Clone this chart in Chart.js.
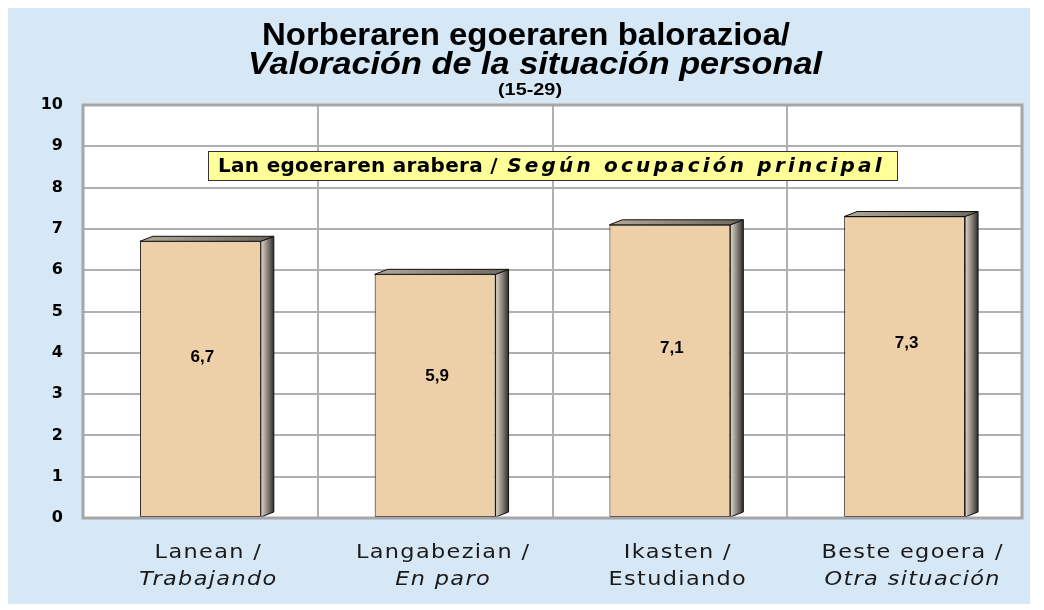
<!DOCTYPE html>
<html>
<head>
<meta charset="utf-8">
<script src="https://cdn.jsdelivr.net/npm/chart.js@4/dist/chart.umd.min.js"></script>
<style>
  html, body { margin: 0; padding: 0; background: #fff; }
  #wrap { width: 1044px; height: 610px; }
</style>
</head>
<body>
<div id="wrap"><canvas id="chart" width="1044" height="610"></canvas></div>
<script>
// data
const catEu = ['Lanean /', 'Langabezian /', 'Ikasten /', 'Beste egoera /'];
const catEs = ['Trabajando', 'En paro', 'Estudiando', 'Otra situación'];
const catEsItalic = [true, true, false, true];
const values = [6.7, 5.9, 7.1, 7.3];
const yMin = 0, yMax = 10, yStep = 1;

const titleLine1 = 'Norberaren egoeraren balorazioa/';
const titleLine2 = 'Valoración de la situación personal';
const subtitle = '(15-29)';
const boxEu = 'Lan egoeraren arabera / ';
const boxEs = 'Según ocupación principal';

const BLUE = '#d6e7f5';
const BAR = '#edd0a7';
const GRID = '#b0b0b0';
const ARIAL = '"Liberation Sans", Arial, sans-serif';
const LABEL_FONT = '"DejaVu Sans", Verdana, sans-serif';

const fmt = v => v.toFixed(1).replace('.', ',');

// draws centred text stretched horizontally to a given width
function fitText(ctx, text, cx, cy, font, width) {
  ctx.font = font;
  const w = ctx.measureText(text).width;
  ctx.save();
  ctx.translate(cx, cy);
  ctx.scale(width / w, 1);
  ctx.textAlign = 'center';
  ctx.fillText(text, 0, 0);
  ctx.restore();
}

// centred text with a fixed horizontal stretch
function wideText(ctx, text, cx, cy, sx) {
  ctx.save();
  ctx.translate(cx, cy);
  ctx.scale(sx, 1);
  ctx.textAlign = 'center';
  ctx.fillText(text, 0, 0);
  ctx.restore();
}

// background, plot frame and all decorative text
const decor = {
  id: 'decor',
  beforeDraw(chart) {
    const { ctx, chartArea: a } = chart;
    ctx.save();
    ctx.fillStyle = '#fff';
    ctx.fillRect(0, 0, chart.width, chart.height);
    ctx.fillStyle = BLUE;
    ctx.fillRect(8, 8, 1022, 596);
    ctx.fillStyle = '#fff';
    ctx.fillRect(a.left, a.top, a.right - a.left, a.bottom - a.top);
    ctx.restore();
  },
  afterDraw(chart) {
    const { ctx, chartArea: a } = chart;
    const xs = chart.scales.x;
    ctx.save();
    ctx.strokeStyle = '#a6a6a6';
    ctx.lineWidth = 3;
    ctx.strokeRect(a.left, a.top, a.right - a.left, a.bottom - a.top);

    // titles
    ctx.fillStyle = '#000';
    ctx.textBaseline = 'middle';
    fitText(ctx, titleLine1, 526, 36, 'bold 31px ' + ARIAL, 528);
    fitText(ctx, titleLine2, 535, 65, 'italic bold 31px ' + ARIAL, 574);
    fitText(ctx, subtitle, 530, 90, 'bold 17px ' + ARIAL, 64);

    // yellow label box
    const bx = 208, by = 151, bw = 689, bh = 29;
    ctx.fillStyle = '#ffff99';
    ctx.fillRect(bx, by, bw, bh);
    ctx.strokeStyle = '#333';
    ctx.lineWidth = 1;
    ctx.strokeRect(bx + 0.5, by + 0.5, bw, bh);
    ctx.fillStyle = '#000';
    ctx.textAlign = 'left';
    ctx.font = 'bold 20px ' + LABEL_FONT;
    ctx.letterSpacing = '0.3px';
    const w1 = ctx.measureText(boxEu).width;
    ctx.fillText(boxEu, 218, by + bh / 2 + 1);
    ctx.font = 'italic bold 20px ' + LABEL_FONT;
    ctx.letterSpacing = '3.2px';
    ctx.fillText(boxEs, 218 + w1 + 2, by + bh / 2 + 1);
    ctx.letterSpacing = '0px';

    // category labels
    ctx.fillStyle = '#1a1a1a';
    catEu.forEach((t, i) => {
      const x = xs.getPixelForValue(i) + 8;
      ctx.letterSpacing = '1.2px';
      ctx.font = '20px ' + LABEL_FONT;
      wideText(ctx, t, x, 553, 1.12);
      ctx.font = (catEsItalic[i] ? 'italic ' : '') + '20px ' + LABEL_FONT;
      wideText(ctx, catEs[i], x, 580, 1.12);
    });
    ctx.restore();
  }
};

// 3D side and top faces plus value labels
const bars3d = {
  id: 'bars3d',
  afterDatasetsDraw(chart) {
    const { ctx } = chart;
    const ys = chart.scales.y;
    const meta = chart.getDatasetMeta(0);
    const dx = 13, dy = 5;
    ctx.save();
    ctx.lineWidth = 1;
    ctx.strokeStyle = '#111';
    meta.data.forEach((bar, i) => {
      const p = bar.getProps(['x', 'y', 'base', 'width'], true);
      const l = p.x - p.width / 2, r = p.x + p.width / 2;
      const top = p.y, base = p.base;
      // side
      const g = ctx.createLinearGradient(r, 0, r + dx, 0);
      g.addColorStop(0, '#e0d8cc');
      g.addColorStop(0.5, '#8c857c');
      g.addColorStop(1, '#2e2e2e');
      ctx.beginPath();
      ctx.moveTo(r, top);
      ctx.lineTo(r + dx, top - dy);
      ctx.lineTo(r + dx, base - dy);
      ctx.lineTo(r, base);
      ctx.closePath();
      ctx.fillStyle = g;
      ctx.fill();
      ctx.stroke();
      // top
      const gt = ctx.createLinearGradient(l, 0, r + dx, 0);
      gt.addColorStop(0, '#b0a898');
      gt.addColorStop(1, '#6e685e');
      ctx.beginPath();
      ctx.moveTo(l, top);
      ctx.lineTo(l + dx, top - dy);
      ctx.lineTo(r + dx, top - dy);
      ctx.lineTo(r, top);
      ctx.closePath();
      ctx.fillStyle = gt;
      ctx.fill();
      ctx.stroke();
      // value
      ctx.fillStyle = '#000';
      ctx.font = 'bold 17px ' + ARIAL;
      ctx.textAlign = 'center';
      ctx.textBaseline = 'middle';
      ctx.fillText(fmt(values[i]), p.x + 2, ys.getPixelForValue(values[i] * 0.58));
    });
    ctx.restore();
  }
};

new Chart(document.getElementById('chart'), {
  type: 'bar',
  data: {
    labels: catEu,
    datasets: [{
      data: values,
      backgroundColor: BAR,
      borderColor: '#111',
      borderWidth: 1,
      borderSkipped: false,
      barPercentage: 0.515,
      categoryPercentage: 1
    }]
  },
  options: {
    responsive: false,
    animation: false,
    devicePixelRatio: 1,
    layout: { padding: { top: 105, right: 22, bottom: 92, left: 0 } },
    plugins: { legend: { display: false }, tooltip: { enabled: false }, title: { display: false } },
    scales: {
      x: {
        grid: { offset: true, color: GRID, lineWidth: 2, drawTicks: false },
        border: { display: false },
        ticks: { display: false },
        afterFit(s) { s.height = 0; }
      },
      y: {
        min: yMin,
        max: yMax,
        ticks: {
          stepSize: yStep,
          color: '#000',
          padding: 20,
          font: { family: '"DejaVu Sans", Verdana, sans-serif', weight: 'bold', size: 16 }
        },
        grid: { color: GRID, lineWidth: 2, drawTicks: false },
        border: { display: false },
        afterFit(s) { s.width = 83; }
      }
    }
  },
  plugins: [decor, bars3d]
});
</script>
</body>
</html>
